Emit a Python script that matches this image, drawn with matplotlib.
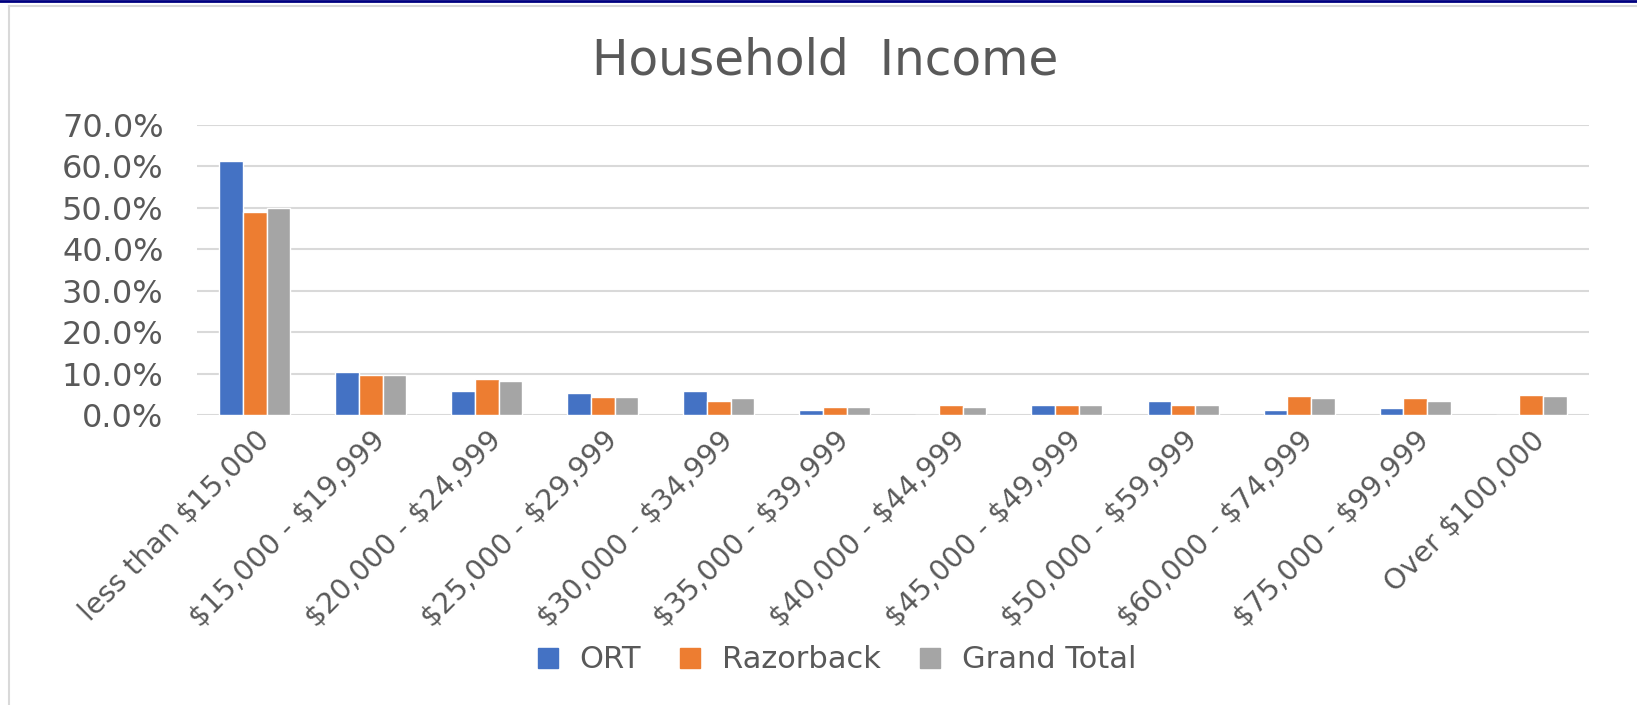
import numpy as np
import matplotlib.pyplot as plt
from matplotlib.lines import Line2D

categories = ["less than $15,000", "$15,000 - $19,999", "$20,000 - $24,999",
              "$25,000 - $29,999", "$30,000 - $34,999", "$35,000 - $39,999",
              "$40,000 - $44,999", "$45,000 - $49,999", "$50,000 - $59,999",
              "$60,000 - $74,999", "$75,000 - $99,999", "Over $100,000"]
ort = [61.2, 10.4, 5.9, 5.3, 5.9, 1.1, 0.0, 2.5, 3.5, 1.1, 1.6, 0.0]
razorback = [49.0, 9.6, 8.7, 4.4, 3.5, 2.0, 2.5, 2.5, 2.5, 4.5, 4.0, 4.9]
grand_total = [50.0, 9.6, 8.1, 4.4, 4.0, 2.0, 2.0, 2.5, 2.5, 4.0, 3.5, 4.5]

series = [("ORT", ort, "#4472C4"),
          ("Razorback", razorback, "#ED7D31"),
          ("Grand Total", grand_total, "#A5A5A5")]

text_col = "#595959"
plt.rcParams['font.family'] = ['DejaVu Sans']
plt.rcParams['text.parse_math'] = False

fig = plt.figure(figsize=(16.37, 7.05), dpi=100)
ax = fig.add_axes([0.1203, 0.4113, 0.8504, 0.4114])

x = np.arange(len(categories))
w = 0.204
for i, (name, vals, col) in enumerate(series):
    ax.bar(x + (i - 1) * w, np.array(vals) / 100, width=w, color=col,
           edgecolor="white", linewidth=1.0, label=name, zorder=3)

ax.set_xlim(-0.5, len(categories) - 0.5)
ax.set_ylim(0, 0.7)
ax.set_yticks(np.arange(0, 0.71, 0.1))
ax.set_yticklabels([f"{v * 100:.1f}%" for v in np.arange(0, 0.71, 0.1)],
                   fontsize=23, color=text_col)
ax.set_xticks(x)
ax.set_xticklabels(categories, rotation=45, ha="right", rotation_mode="anchor",
                   fontsize=20.5, color=text_col)
ax.tick_params(axis="y", length=0, pad=24)
ax.tick_params(axis="x", length=0, pad=8)
ax.grid(axis="y", color="#D9D9D9", linewidth=1.5, zorder=0)
for s in ax.spines.values():
    s.set_visible(False)

fig.text(0.504, 0.914, "Household  Income", ha="center", va="center",
         fontsize=35, color=text_col)

handles = [Line2D([], [], marker="s", linestyle="none", markersize=15,
                  markerfacecolor=c, markeredgecolor=c) for _, _, c in series]
fig.legend(handles, [n for n, _, _ in series], loc="center",
           bbox_to_anchor=(0.505, 0.064), ncol=3, frameon=False,
           fontsize=22, labelcolor=text_col, handletextpad=0.05,
           columnspacing=0.6)

# chart frame
fig.add_artist(Line2D([0, 1], [0.9985, 0.9985], color="#000080", linewidth=2,
                      transform=fig.transFigure))
fig.add_artist(Line2D([0.0055, 0.0055], [0, 0.991], color="#D9D9D9",
                      linewidth=1.5, transform=fig.transFigure))
fig.add_artist(Line2D([0.0055, 1], [0.991, 0.991], color="#D9D9D9",
                      linewidth=1.5, transform=fig.transFigure))

fig.savefig("out.png", dpi=100, facecolor="white")
